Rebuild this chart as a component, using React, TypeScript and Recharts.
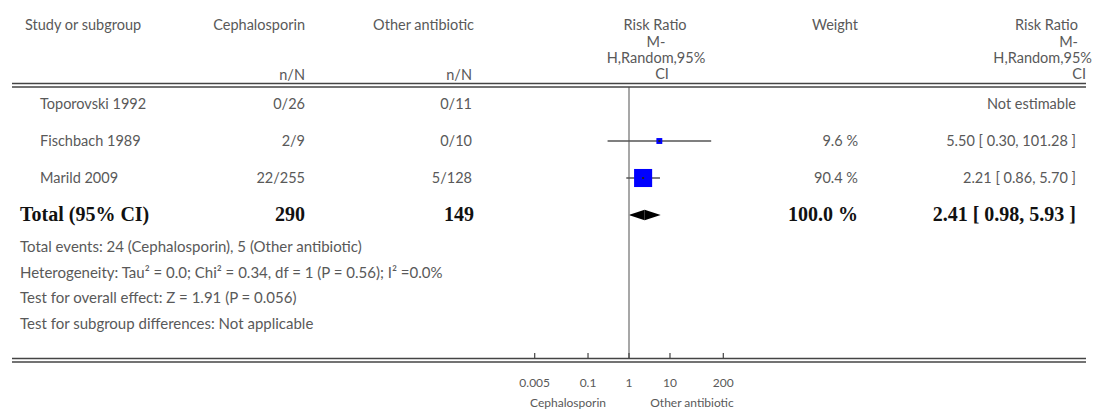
import {
  ComposedChart,
  XAxis,
  YAxis,
  Scatter,
  ReferenceLine,
  ReferenceArea,
} from "recharts";

// study rows
const studies = ["Toporovski 1992", "Fischbach 1989", "Marild 2009"];
const cephalosporin = ["0/26", "2/9", "22/255"];
const otherAntibiotic = ["0/11", "0/10", "5/128"];
const riskRatio: (number | null)[] = [null, 5.5, 2.21];
const ciLow: (number | null)[] = [null, 0.3, 0.86];
const ciHigh: (number | null)[] = [null, 101.28, 5.7];
const weights: (number | null)[] = [null, 9.6, 90.4];

// pooled result
const totalLabel = "Total (95% CI)";
const totalN = [290, 149];
const totalRR = 2.41;
const totalLow = 0.98;
const totalHigh = 5.93;
const totalWeight = 100.0;

const xTicks = [0.005, 0.1, 1, 10, 200];
const favourLabels = ["Cephalosporin", "Other antibiotic"];

const footnotes = [
  "Total events: 24 (Cephalosporin), 5 (Other antibiotic)",
  "Heterogeneity: Tau\u00b2 = 0.0; Chi\u00b2 = 0.34, df = 1 (P = 0.56); I\u00b2 =0.0%",
  "Test for overall effect: Z = 1.91 (P = 0.056)",
  "Test for subgroup differences: Not applicable",
];

const W = 1101;
const H = 417;
const GRAY = "#595959";
const SANS = "Lato, 'Open Sans', sans-serif";
const SERIF = "'Liberation Serif', 'DejaVu Serif', serif";

const fmtRR = (rr: number, lo: number, hi: number) =>
  `${rr.toFixed(2)} [ ${lo.toFixed(2)}, ${hi.toFixed(2)} ]`;

const textRows = studies.map((s, i) => ({
  x: 1,
  row: i,
  study: s,
  ceph: cephalosporin[i],
  other: otherAntibiotic[i],
  weight: weights[i],
  rr: riskRatio[i],
  lo: ciLow[i],
  hi: ciHigh[i],
}));

const markers = studies
  .map((_, i) => ({ x: riskRatio[i], row: i, weight: weights[i] }))
  .filter((d) => d.x != null);

const totalRow = studies.length;

const RowText = (props: any) => {
  const { cy, payload } = props;
  const y = cy + 5;
  return (
    <g fontFamily={SANS} fontSize={14.5} fill={GRAY}>
      <text x={40} y={y}>{payload.study}</text>
      <text x={305} y={y} textAnchor="end">{payload.ceph}</text>
      <text x={472} y={y} textAnchor="end">{payload.other}</text>
      {payload.weight != null && (
        <text x={858} y={y} textAnchor="end">{`${payload.weight.toFixed(1)} %`}</text>
      )}
      <text x={1076} y={y} textAnchor="end">
        {payload.rr != null ? fmtRR(payload.rr, payload.lo, payload.hi) : "Not estimable"}
      </text>
    </g>
  );
};

const TotalText = (props: any) => {
  const { cy } = props;
  const y = cy + 6;
  return (
    <g fontFamily={SERIF} fontSize={20} fontWeight="bold" fill="#111">
      <text x={20} y={y}>{totalLabel}</text>
      <text x={305} y={y} textAnchor="end">{totalN[0]}</text>
      <text x={474} y={y} textAnchor="end">{totalN[1]}</text>
      <text x={858} y={y} textAnchor="end">{`${totalWeight.toFixed(1)} %`}</text>
      <text x={1076} y={y} textAnchor="end">{fmtRR(totalRR, totalLow, totalHigh)}</text>
    </g>
  );
};

const Square = (props: any) => {
  const { cx, cy, payload } = props;
  const s = 19 * Math.sqrt(payload.weight / 100);
  return (
    <g>
      <rect x={cx - s / 2} y={cy - s / 2} width={s} height={s} fill="#0000ff" />
      <rect x={cx - 1} y={cy - 1} width={2} height={2} fill="#222" />
    </g>
  );
};

const AxisTick = (props: any) => {
  const { x, y, payload } = props;
  return (
    <g>
      <line x1={x} x2={x} y1={y - 5} y2={y} stroke="#444" strokeWidth={1.2} />
      <text x={x} y={y + 29} textAnchor="middle" fontFamily={SANS} fontSize={12} fill={GRAY}>
        {payload.value}
      </text>
    </g>
  );
};

const Rule = ({ y }: { y: number }) => (
  <g stroke="#444" strokeWidth={1.3}>
    <line x1={12} x2={1086} y1={y} y2={y} />
    <line x1={12} x2={1086} y1={y + 3.5} y2={y + 3.5} />
  </g>
);

const App = () => {
  return (
    <div style={{ position: "absolute", left: 0, top: 0, width: W, height: H, background: "#fff" }}>
      <ComposedChart
        width={W}
        height={H}
        margin={{ top: 87, right: 377.7, bottom: 19, left: 534.7 }}
      >
        <XAxis
          dataKey="x"
          type="number"
          scale="log"
          domain={[0.005, 200]}
          ticks={xTicks}
          interval={0}
          axisLine={false}
          tickLine={false}
          tickSize={0}
          tickMargin={0}
          height={40}
          tick={(p: any) => <AxisTick {...p} />}
        />
        <YAxis dataKey="row" type="number" domain={[-0.4595, 6.865]} reversed hide />
        <ReferenceLine x={1} stroke="#8a8a8a" strokeWidth={1.5} />
        {studies.map((_, i) =>
          riskRatio[i] != null ? (
            <ReferenceLine
              key={i}
              segment={[
                { x: ciLow[i] as number, y: i },
                { x: ciHigh[i] as number, y: i },
              ]}
              stroke="#555"
              strokeWidth={1.3}
            />
          ) : null
        )}
        <ReferenceArea
          x1={totalLow}
          x2={totalRR}
          y1={totalRow - 0.14}
          y2={totalRow + 0.14}
          shape={(p: any) => (
            <polygon
              points={`${p.x},${p.y + p.height / 2} ${p.x + p.width},${p.y} ${p.x + p.width},${p.y + p.height}`}
              fill="#000"
            />
          )}
        />
        <ReferenceArea
          x1={totalRR}
          x2={totalHigh}
          y1={totalRow - 0.14}
          y2={totalRow + 0.14}
          shape={(p: any) => (
            <polygon
              points={`${p.x},${p.y} ${p.x + p.width},${p.y + p.height / 2} ${p.x},${p.y + p.height}`}
              fill="#000"
            />
          )}
        />
        <Scatter data={textRows} shape={RowText} isAnimationActive={false} />
        <Scatter data={[{ x: 1, row: totalRow }]} shape={TotalText} isAnimationActive={false} />
        <Scatter data={markers} shape={Square} isAnimationActive={false} />
      </ComposedChart>

      <svg
        width={W}
        height={H}
        style={{ position: "absolute", left: 0, top: 0, pointerEvents: "none" }}
      >
        <g fontFamily={SANS} fontSize={14.5} fill={GRAY}>
          <text x={25} y={30}>Study or subgroup</text>
          <text x={305} y={30} textAnchor="end">Cephalosporin</text>
          <text x={474} y={30} textAnchor="end">Other antibiotic</text>
          <text x={305} y={80} textAnchor="end">n/N</text>
          <text x={472} y={80} textAnchor="end">n/N</text>

          <text x={655} y={30} textAnchor="middle">Risk Ratio</text>
          <text x={656} y={47} textAnchor="middle">M-</text>
          <text x={656} y={63} textAnchor="middle">H,Random,95%</text>
          <text x={662} y={79} textAnchor="middle">CI</text>

          <text x={858} y={30} textAnchor="end">Weight</text>

          <text x={1078} y={30} textAnchor="end">Risk Ratio</text>
          <text x={1078} y={47} textAnchor="end">M-</text>
          <text x={1092} y={63} textAnchor="end">H,Random,95%</text>
          <text x={1086} y={79} textAnchor="end">CI</text>
        </g>
        <g fontFamily={SANS} fontSize={15} fill={GRAY}>
          {footnotes.map((f, i) => (
            <text key={i} x={20} y={252 + i * 25.5}>
              {f}
            </text>
          ))}
        </g>
        <Rule y={83.5} />
        <Rule y={358.5} />
        <g fontFamily={SANS} fontSize={12} fill={GRAY} textAnchor="middle">
          <text x={568} y={407}>{favourLabels[0]}</text>
          <text x={692} y={407}>{favourLabels[1]}</text>
        </g>
      </svg>
    </div>
  );
};

export default App;
